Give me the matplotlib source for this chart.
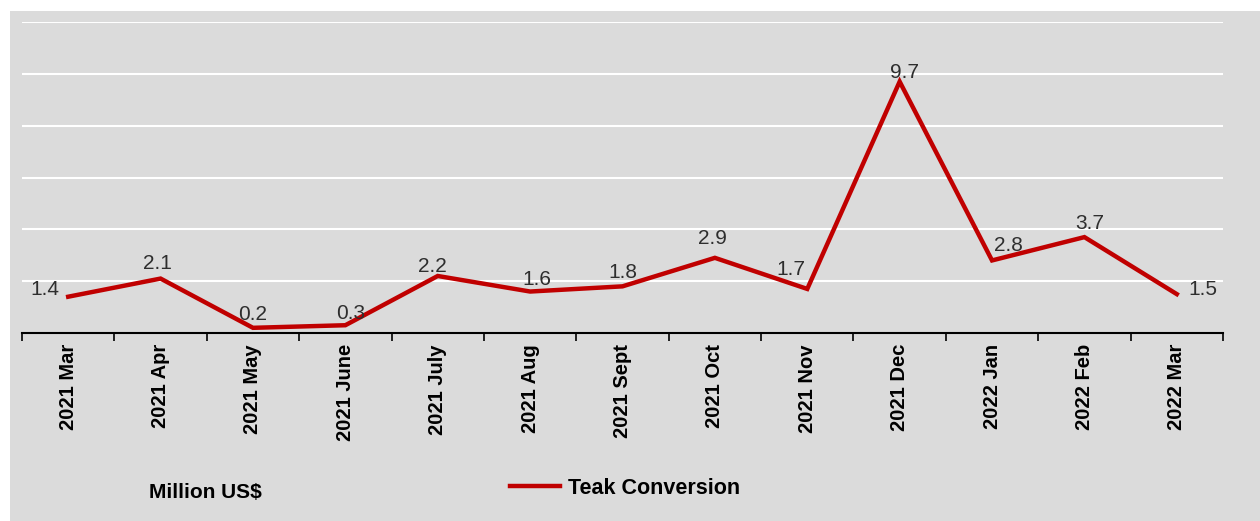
import matplotlib.pyplot as plt
from matplotlib.patches import Rectangle
from matplotlib.lines import Line2D

# data
months = ['2021 Mar', '2021 Apr', '2021 May', '2021 June', '2021 July', '2021 Aug',
          '2021 Sept', '2021 Oct', '2021 Nov', '2021 Dec', '2022 Jan', '2022 Feb', '2022 Mar']
teak_conversion = [1.4, 2.1, 0.2, 0.3, 2.2, 1.6, 1.8, 2.9, 1.7, 9.7, 2.8, 3.7, 1.5]

# label offsets in points (dx, dy); first and last sit beside the point
label_offsets = [(-16.5, 5), (-2, 4), (0, 3), (4, 1.5), (-4, 0), (5, 1.5), (0, 3),
                 (-2, 7), (-11.5, 7), (3.5, -0.5), (11.5, 4), (3.5, 3), (19, 3.5)]
side_labels = {0, len(months) - 1}

plt.rcParams['font.family'] = ['Liberation Sans', 'DejaVu Sans']

fig = plt.figure(figsize=(12.6, 5.21), dpi=100)
fig.patch.set_facecolor('white')

# gray panel behind everything
fig.patches.append(Rectangle((10 / 1260, 0), 1 - 10 / 1260, 1 - 11 / 521,
                             transform=fig.transFigure, facecolor='#dbdbdb',
                             edgecolor='none', zorder=-5))

ax = fig.add_axes([22 / 1260, 1 - 333 / 521, (1223 - 22) / 1260, (333 - 22) / 521])
ax.set_zorder(2)
ax.set_facecolor('none')

x = list(range(len(months)))
ax.plot(x, teak_conversion, color='#c00000', linewidth=3.2, solid_joinstyle='miter', zorder=3)

for i, (xi, v, (dx, dy)) in enumerate(zip(x, teak_conversion, label_offsets)):
    ax.annotate(f'{v:.1f}', (xi, v), xytext=(dx, dy), textcoords='offset points',
                ha='center', va='center' if i in side_labels else 'bottom',
                fontsize=15, color='#2e2e2e', zorder=4)

ax.set_xlim(-0.5, len(months) - 0.5)
ax.set_ylim(0, 12)
ax.set_yticks([2, 4, 6, 8, 10, 12])
ax.yaxis.grid(True, color='white', linewidth=1.5)
ax.set_axisbelow(True)
ax.tick_params(axis='y', left=False, labelleft=False)

# boundary ticks between categories, labels at category centers
ax.set_xticks([i - 0.5 for i in range(len(months) + 1)], minor=False)
ax.set_xticklabels([])
ax.tick_params(axis='x', which='major', direction='out', length=6, width=1.2, color='black')
ax.set_xticks(x, minor=True)
ax.set_xticklabels(months, minor=True, rotation=90, fontsize=14.5, fontweight='bold')
ax.tick_params(axis='x', which='minor', length=0, pad=8)

for side in ['top', 'left', 'right']:
    ax.spines[side].set_visible(False)
ax.spines['bottom'].set_linewidth(1.5)
ax.spines['bottom'].set_color('black')

fig.text(205 / 1260, 1 - 492 / 521, 'Million US$', ha='center', va='center',
         fontsize=15, fontweight='bold')

handle = Line2D([], [], color='#c00000', linewidth=3.2)
fig.legend([handle], ['Teak Conversion'], loc='center', bbox_to_anchor=(625 / 1260, 1 - 488 / 521),
           frameon=False, prop={'weight': 'bold', 'size': 15.5}, handlelength=2.3,
           handletextpad=0.37)

fig.savefig('out.png', dpi=100)
